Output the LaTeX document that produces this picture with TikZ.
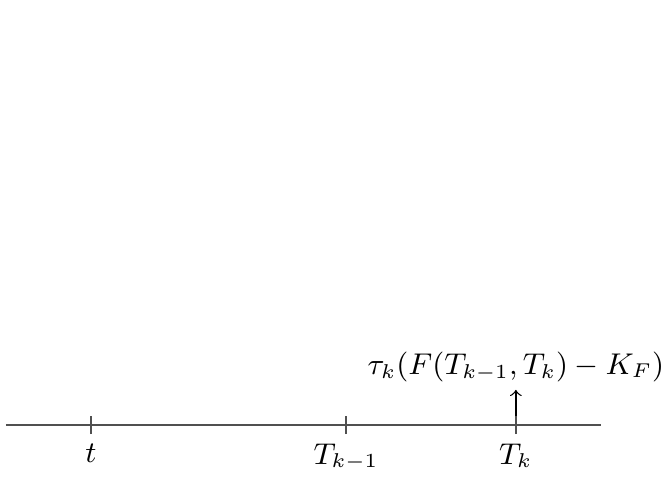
\documentclass[tikz,border=0pt]{standalone}
\usepackage{tikz}
\definecolor{axisgray}{HTML}{505050}
\tikzset{
  axis/.style={draw=axisgray,line width=0.6pt},
  tick/.style={draw=axisgray,line width=0.5pt},
  payoff/.style={->,line width=0.4pt,shorten >=0.04cm},
  datelabel/.style={below,inner sep=2pt}
}
\begin{document}
\begin{tikzpicture}[every node/.style={font=\fontsize{8.86}{10.6}\selectfont}]
  \useasboundingbox (0,-0.675) rectangle (7.055,4.482);
  \coordinate (start) at (0.063,0);
  \coordinate (stop) at (6.338,0);
  \coordinate (t) at (0.96,0);
  \coordinate (a) at (3.65,0);
  \coordinate (b) at (5.44,0);
  \draw[axis] (start)--(stop);
  \foreach \p in {t,a,b}
    \draw[tick] ([yshift=-0.095cm]\p)--([yshift=0.095cm]\p);
  \node[datelabel] (lt) at ([yshift=-0.12cm]t) {$t$};
  \node[datelabel] (la) at ([yshift=-0.12cm]a) {$T_{k-1}$};
  \node[datelabel] (lb) at ([yshift=-0.12cm]b) {$T_k$};
  \node[anchor=south,inner sep=1pt] (flow) at (5.44,0.41)
    {$\tau_k(F(T_{k-1},T_k)-K_F)$};
  \draw[payoff] ([yshift=0.095cm]b)--(flow.south);
\end{tikzpicture}
\end{document}
